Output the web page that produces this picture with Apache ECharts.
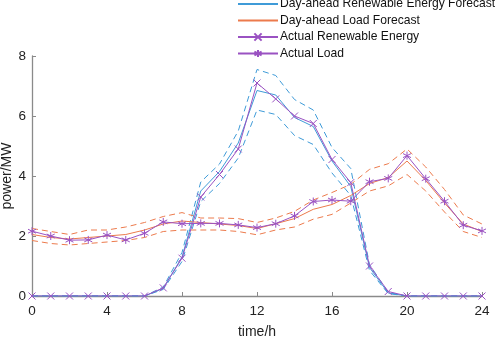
<!DOCTYPE html>
<html>
<head>
<meta charset="utf-8">
<script src="https://cdn.jsdelivr.net/npm/echarts@6/dist/echarts.min.js"></script>
<style>
  html, body { margin: 0; padding: 0; background: #fff; }
  #chart { width: 498px; height: 337px; }
</style>
</head>
<body>
<div id="chart"></div>
<script>
// hours 0..24
var hours = [0,1,2,3,4,5,6,7,8,9,10,11,12,13,14,15,16,17,18,19,20,21,22,23,24];

// renewable energy (MW)
var reForecast = [0,0,0,0,0,0,0,0.25,1.3,3.5,4.15,5.1,6.85,6.7,5.95,5.65,4.5,3.65,0.95,0.1,0,0,0,0,0];
var reUpper    = [0,0,0,0,0,0,0,0.3,1.45,3.8,4.4,5.5,7.55,7.35,6.55,6.2,4.95,4.25,1.05,0.12,0,0,0,0,0];
var reLower    = [0,0,0,0,0,0,0,0.22,1.15,3.15,3.75,4.6,6.2,6.05,5.35,5.05,4.1,3.35,0.85,0.08,0,0,0,0,0];
var reActual   = [0,0,0,0,0,0,0,0.27,1.26,3.3,4.05,4.9,7.1,6.57,6.0,5.75,4.55,3.78,1.0,0.15,0,0,0,0,0];

// load (MW)
var loadForecast = [2.05,1.95,1.9,1.95,2.0,2.05,2.2,2.4,2.5,2.45,2.4,2.35,2.25,2.41,2.58,2.89,3.05,3.35,3.75,3.95,4.5,3.85,3.1,2.4,2.15];
var loadUpper    = [2.25,2.15,2.05,2.2,2.2,2.3,2.45,2.65,2.78,2.6,2.6,2.58,2.45,2.6,2.82,3.2,3.45,3.72,4.22,4.41,4.9,4.3,3.55,2.7,2.4];
var loadLower    = [1.85,1.75,1.7,1.75,1.8,1.85,1.95,2.15,2.2,2.2,2.2,2.15,2.04,2.2,2.3,2.56,2.72,3.1,3.5,3.67,4.05,3.5,2.8,2.15,1.95];
var loadActual   = [2.16,2.0,1.86,1.87,2.03,1.87,2.09,2.47,2.41,2.42,2.42,2.37,2.28,2.41,2.67,3.15,3.2,3.16,3.81,3.92,4.68,3.91,3.16,2.36,2.17];

var blue = '#3f9bd8';
var orange = '#ec7a4c';
var purple = '#9a52c2';

function pairs(vals) {
  var out = [];
  for (var i = 0; i < hours.length; i++) {
    out.push([hours[i], vals[i]]);
  }
  return out;
}

var crossPath = 'path://M0,0L10,10M10,0L0,10';
var starPath = 'path://M5,0L5,10M0,2.5L10,7.5M10,2.5L0,7.5';

function dashed(name, vals, color) {
  return {
    name: name, type: 'line', data: pairs(vals), symbol: 'none', silent: true,
    lineStyle: { color: color, width: 1, type: [6, 4] }, z: 1
  };
}

var myChart = echarts.init(document.getElementById('chart'));
myChart.setOption({
  animation: false,
  textStyle: { fontFamily: 'Liberation Sans, Arial, sans-serif' },
  legend: {
    data: [
      { name: 'Day-ahead Renewable Energy Forecast', itemStyle: { opacity: 0 } },
      { name: 'Day-ahead Load Forecast', itemStyle: { opacity: 0 } },
      { name: 'Actual Renewable Energy' },
      { name: 'Actual Load' }
    ],
    orient: 'vertical',
    left: 237,
    top: -3,
    padding: 0,
    itemWidth: 40,
    itemHeight: 9,
    itemGap: 2.5,
    textStyle: { fontSize: 12.1, color: '#111', padding: [0, 0, 0, -3], lineHeight: 14 }
  },
  grid: { left: 32, right: 16, top: 56, bottom: 41, outerBoundsMode: 'none' },
  xAxis: {
    type: 'value', min: 0, max: 24, interval: 4,
    name: 'time/h', nameLocation: 'middle', nameGap: 29, nameMoveOverlap: false,
    nameTextStyle: { fontSize: 14, color: '#222' },
    axisLine: { show: true, lineStyle: { color: '#8a8a8a', width: 1.3 } },
    axisTick: { show: true, inside: true, length: 4, lineStyle: { color: '#8a8a8a' } },
    axisLabel: { fontSize: 13.5, color: '#222', margin: 8 },
    splitLine: { show: false }
  },
  yAxis: {
    type: 'value', min: 0, max: 8, interval: 2,
    name: 'power/MW', nameLocation: 'middle', nameGap: 18, nameMoveOverlap: false,
    nameTextStyle: { fontSize: 14, color: '#222' },
    axisLine: { show: true, lineStyle: { color: '#8a8a8a', width: 1.3 } },
    axisTick: { show: true, inside: true, length: 4, lineStyle: { color: '#8a8a8a' } },
    axisLabel: { fontSize: 13.5, color: '#222', margin: 6 },
    splitLine: { show: false }
  },
  series: [
    dashed('reUpper', reUpper, blue),
    dashed('reLower', reLower, blue),
    dashed('loadUpper', loadUpper, orange),
    dashed('loadLower', loadLower, orange),
    {
      name: 'Day-ahead Renewable Energy Forecast', type: 'line', data: pairs(reForecast),
      symbol: 'none', lineStyle: { color: blue, width: 1 }, itemStyle: { color: blue }, z: 2
    },
    {
      name: 'Day-ahead Load Forecast', type: 'line', data: pairs(loadForecast),
      symbol: 'none', lineStyle: { color: orange, width: 1 }, itemStyle: { color: orange }, z: 2
    },
    {
      name: 'Actual Renewable Energy', type: 'line', data: pairs(reActual),
      symbol: crossPath, symbolSize: 7, showAllSymbol: true,
      lineStyle: { color: purple, width: 1 },
      itemStyle: { color: 'transparent', borderColor: purple, borderWidth: 1 }, z: 3
    },
    {
      name: 'Actual Load', type: 'line', data: pairs(loadActual),
      symbol: starPath, symbolSize: 8, showAllSymbol: true,
      lineStyle: { color: purple, width: 1 },
      itemStyle: { color: 'transparent', borderColor: purple, borderWidth: 1 }, z: 3
    }
  ]
});
</script>
</body>
</html>
